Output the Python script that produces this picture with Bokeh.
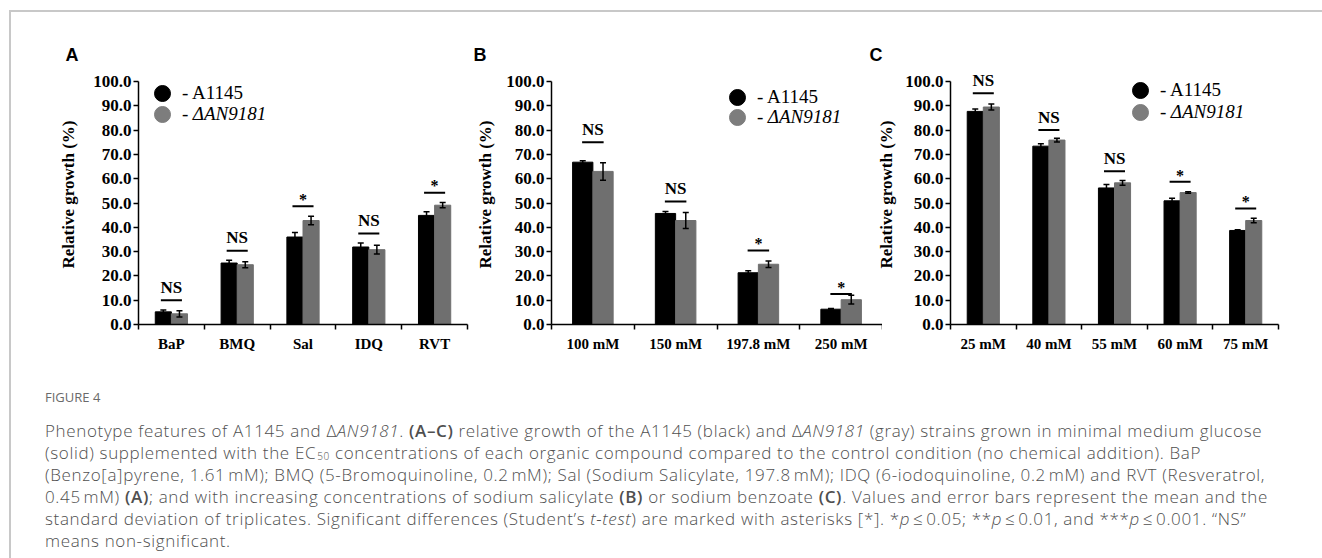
import numpy as np
from bokeh.plotting import figure
from bokeh.models import (Range1d, FixedTicker, PrintfTickFormatter, Whisker, TeeHead,
                          ColumnDataSource, Legend, LegendItem, Div, LinearAxis)
from bokeh.layouts import row, column
from bokeh.embed import file_html
from bokeh.resources import INLINE
from bokeh.core.properties import value

# ---------------- data ----------------
cats_A = ["BaP", "BMQ", "Sal", "IDQ", "RVT"]
wt_A = [5.2, 25.3, 36.0, 31.9, 44.9]
wt_A_sd = [0.8, 1.1, 1.9, 1.6, 1.5]
ko_A = [4.4, 24.6, 42.8, 30.8, 49.1]
ko_A_sd = [1.3, 1.2, 1.7, 1.8, 1.1]
sig_A = ["NS", "NS", "*", "NS", "*"]
sig_A_y = [10.0, 30.4, 48.7, 37.5, 54.2]

cats_B = ["100 mM", "150 mM", "197.8 mM", "250 mM"]
wt_B = [66.8, 45.7, 21.3, 6.3]
wt_B_sd = [0.6, 0.8, 0.8, 0.3]
ko_B = [63.0, 42.8, 24.8, 10.2]
ko_B_sd = [3.6, 3.3, 1.3, 1.8]
sig_B = ["NS", "NS", "*", "*"]
sig_B_y = [75.0, 50.6, 30.5, 12.6]

cats_C = ["25 mM", "40 mM", "55 mM", "60 mM", "75 mM"]
wt_C = [87.7, 73.4, 56.2, 50.9, 38.7]
wt_C_sd = [1.0, 1.0, 1.4, 1.1, 0.3]
ko_C = [89.5, 75.9, 58.3, 54.3, 42.8]
ko_C_sd = [1.2, 0.8, 1.0, 0.3, 0.9]
sig_C = ["NS", "NS", "NS", "*", "*"]
sig_C_y = [95.2, 80.0, 63.1, 58.7, 47.7]

y_ticks = [0, 10, 20, 30, 40, 50, 60, 70, 80, 90, 100]
series_names = ["- A1145", "- \u0394AN9181"]
y_title = "Relative growth (%)"

# ---------------- style ----------------
SERIF = "Liberation Serif"
BLACK = "#000000"
GRAY = "#6f6f6f"
GRAY_LEG = "#7d7d7d"
BAR_W = 0.245
Y_TOP = 107
MB_TOP = 52
MB_BOTTOM = 41
FIG_H = MB_TOP + 260 + MB_BOTTOM


def panel(cats, wt, wt_sd, ko, ko_sd, sig, sig_y, width, mbl, mbr,
          leg_x, leg_y1, leg_y2, half_line, title, title_offset, lab_standoff):
    n = len(cats)
    xs = np.arange(1, n + 1, dtype=float)
    p = figure(width=width, height=FIG_H, output_backend="svg", toolbar_location=None,
               x_range=Range1d(0.5, n + 0.5), y_range=Range1d(0, Y_TOP),
               min_border_left=mbl, min_border_right=mbr,
               min_border_top=MB_TOP, min_border_bottom=MB_BOTTOM,
               x_axis_type=None, y_axis_type=None, title=title)
    p.outline_line_color = None
    p.grid.visible = False
    p.background_fill_color = "white"
    p.border_fill_color = "white"
    p.title.align = "left"
    p.title.offset = title_offset
    p.title.standoff = 0
    p.title.text_font = "Liberation Sans"
    p.title.text_font_style = "bold"
    p.title.text_font_size = "18px"
    p.title.text_color = BLACK

    xa = LinearAxis(ticker=FixedTicker(ticks=list(xs),
                                       minor_ticks=list(np.arange(0.5, n + 1, 1.0))),
                    major_label_overrides={int(i + 1): c for i, c in enumerate(cats)})
    xa.major_tick_line_color = None
    xa.major_tick_out = 0
    xa.major_tick_in = 0
    xa.minor_tick_out = 5
    xa.minor_tick_in = 0
    xa.minor_tick_line_color = BLACK
    xa.minor_tick_line_width = 1.5
    xa.axis_line_width = 1.5
    xa.axis_line_color = BLACK
    xa.major_label_standoff = 6
    xa.major_label_text_font = SERIF
    xa.major_label_text_font_style = "bold"
    xa.major_label_text_font_size = "15px"
    xa.major_label_text_color = BLACK
    p.add_layout(xa, "below")

    ya = LinearAxis(ticker=FixedTicker(ticks=y_ticks),
                    formatter=PrintfTickFormatter(format="%.1f"),
                    bounds=(0, 100), axis_label=y_title)
    ya.major_tick_out = 5
    ya.major_tick_in = 0
    ya.minor_tick_line_color = None
    ya.major_tick_line_width = 1.5
    ya.axis_line_width = 1.5
    ya.axis_line_color = BLACK
    ya.major_label_standoff = 2
    ya.major_label_text_font = SERIF
    ya.major_label_text_font_style = "bold"
    ya.major_label_text_font_size = "17px"
    ya.major_label_text_color = BLACK
    ya.axis_label_text_font = SERIF
    ya.axis_label_text_font_style = "bold"
    ya.axis_label_text_font_size = "17px"
    ya.axis_label_text_color = BLACK
    ya.axis_label_standoff = lab_standoff
    p.add_layout(ya, "left")

    src = ColumnDataSource(dict(
        xw=xs - BAR_W / 2, xk=xs + BAR_W / 2,
        wt=wt, ko=ko,
        wt_lo=np.array(wt) - np.array(wt_sd), wt_hi=np.array(wt) + np.array(wt_sd),
        ko_lo=np.array(ko) - np.array(ko_sd), ko_hi=np.array(ko) + np.array(ko_sd),
    ))
    p.vbar(x="xw", top="wt", width=BAR_W, source=src, fill_color=BLACK, line_color=BLACK)
    p.vbar(x="xk", top="ko", width=BAR_W, source=src, fill_color=GRAY, line_color=GRAY)
    for base, lo, hi in (("xw", "wt_lo", "wt_hi"), ("xk", "ko_lo", "ko_hi")):
        w = Whisker(source=src, base=base, lower=lo, upper=hi, line_color=BLACK,
                    line_width=1.5, level="overlay",
                    upper_head=TeeHead(size=6, line_color=BLACK, line_width=1.5),
                    lower_head=TeeHead(size=6, line_color=BLACK, line_width=1.5))
        p.add_layout(w)

    # significance marks
    sy = np.array(sig_y, dtype=float)
    p.segment(x0=xs - half_line, x1=xs + half_line, y0=sy, y1=sy,
              line_color=BLACK, line_width=2)
    is_ns = np.array([s == "NS" for s in sig])
    ty = np.where(is_ns, sy + 5.2, sy + 2.8)
    tsize = ["17px" if s == "NS" else "16px" for s in sig]
    tsrc = ColumnDataSource(dict(x=xs, y=ty, t=sig, fs=tsize))
    p.text(x="x", y="y", text="t", source=tsrc, text_font=value(SERIF),
           text_font_style="bold", text_font_size="fs", text_align="center",
           text_baseline="alphabetic", text_color=BLACK)

    # legend
    r1 = p.scatter(x=[np.nan], y=[np.nan], marker="circle", size=16,
                   fill_color=BLACK, line_color=BLACK)
    r2 = p.scatter(x=[np.nan], y=[np.nan], marker="circle", size=16,
                   fill_color=GRAY_LEG, line_color=GRAY_LEG)
    for r, lab, yy, style in ((r1, series_names[0], leg_y1, "normal"),
                              (r2, series_names[1], leg_y2, "italic")):
        lg = Legend(items=[LegendItem(label=lab, renderers=[r])], location=(leg_x, yy),
                    glyph_width=40, glyph_height=40, label_height=40, spacing=0,
                    padding=0, margin=0, label_standoff=-4,
                    border_line_color=None, background_fill_alpha=0,
                    label_text_font=SERIF, label_text_font_size="19px",
                    label_text_font_style=style, label_text_color=BLACK)
        p.add_layout(lg)
    return p


pA = panel(cats_A, wt_A, wt_A_sd, ko_A, ko_A_sd, sig_A, sig_A_y,
           width=459, mbl=127, mbr=3, leg_x=4, leg_y1=211, leg_y2=190, half_line=0.16,
           title="A", title_offset=-73, lab_standoff=12)
pB = panel(cats_B, wt_B, wt_B_sd, ko_B, ko_B_sd, sig_B, sig_B_y,
           width=412, mbl=81, mbr=0, leg_x=166, leg_y1=207, leg_y2=187, half_line=0.13,
           title="B", title_offset=-78, lab_standoff=8)
pC = panel(cats_C, wt_C, wt_C_sd, ko_C, ko_C_sd, sig_C, sig_C_y,
           width=419, mbl=81, mbr=10, leg_x=170, leg_y1=214, leg_y2=192, half_line=0.16,
           title="C", title_offset=-81, lab_standoff=6)
# panel C's canvas starts slightly over the end of panel B's axis, as in the figure
pC.margin = (0, 0, 0, -13)
pC.border_fill_alpha = 0
pC.background_fill_alpha = 0

B = '<b style="font-weight:600;">'
caption_html = (
    '<div style="font-family:\'Open Sans\',sans-serif;color:#4f4f4f;font-size:17px;font-weight:300;'
    'letter-spacing:0.65px;line-height:22px;padding-left:29px;white-space:nowrap;">'
    '<div style="font-size:13px;letter-spacing:0;margin-top:16px;margin-bottom:12px;'
    'color:#6a6a6a;font-weight:400;">FIGURE 4</div>'
    'Phenotype features of A1145 and &Delta;<i>AN9181</i>. ' + B + '(A&ndash;C)</b> relative growth of the A1145 '
    '(black) and &Delta;<i>AN9181</i> (gray) strains grown in minimal medium glucose<br>'
    '(solid) supplemented with the EC<span style="font-size:10px;vertical-align:-1px;'
    'line-height:0;margin-left:1px;">50</span> '
    'concentrations of each organic compound '
    'compared to the control condition (no chemical addition). BaP<br>'
    '(Benzo[a]pyrene, 1.61&#8239;mM); BMQ (5-Bromoquinoline, 0.2&#8239;mM); Sal (Sodium Salicylate, '
    '197.8&#8239;mM); IDQ (6-iodoquinoline, 0.2&#8239;mM) and RVT (Resveratrol,<br>'
    '0.45&#8239;mM) ' + B + '(A)</b>; and with increasing concentrations of sodium salicylate ' + B + '(B)</b> or '
    'sodium benzoate ' + B + '(C)</b>. Values and error bars represent the mean and the<br>'
    'standard deviation of triplicates. Significant differences (Student&rsquo;s <i>t-test</i>) are '
    'marked with asterisks [*]. *<i>p</i>&#8239;&le;&#8239;0.05; **<i>p</i>&#8239;&le;&#8239;0.01, and '
    '***<i>p</i>&#8239;&le;&#8239;0.001. &ldquo;NS&rdquo;<br>'
    'means non-significant.'
    '</div>'
)
cap = Div(text=caption_html, width=1309, height=190)

layout = column(row(pA, pB, pC), cap,
                styles={"margin-left": "9px", "margin-top": "10px",
                        "border-top": "2px solid #c8c8c8", "border-left": "2px solid #c8c8c8"})

with open("out.html", "w") as f:
    f.write(file_html(layout, INLINE))
